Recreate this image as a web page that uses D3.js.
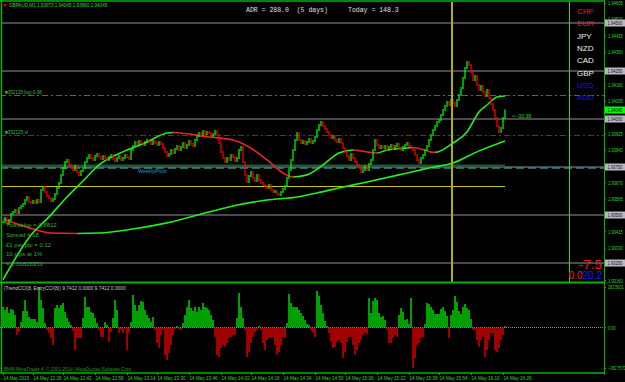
<!DOCTYPE html>
<html>
<head>
<meta charset="utf-8">
<script src="https://cdn.jsdelivr.net/npm/d3@7"></script>
<style>
  html, body { margin: 0; padding: 0; background: #000; }
  svg { display: block; }
  text { font-family: "Liberation Sans", Arial, sans-serif; }
</style>
</head>
<body>
<svg id="chart" width="625" height="382"></svg>
<script>
// ---- data (GBPAUD M1, 14 May 2015) ----
const closes = [
  1.93464,1.93485,1.93453,1.93474,1.93505,
  1.93516,1.93526,1.93511,
  1.93537,1.93547,1.93557,
  1.93578,1.93594,1.93568,
  1.93563,1.93573,1.93563,1.93578,1.93568,
  1.93630,1.93646,
  1.93620,1.93599,1.93589,1.93573,1.93584,
  1.93610,1.93641,1.93667,
  1.93709,1.93745,1.93776,
  1.93787,1.93761,
  1.93745,1.93735,1.93755,1.93724,1.93709,1.93729,1.93745,
  1.93776,1.93797,1.93813,1.93797,1.93787,1.93808,1.93818,1.93802,1.93792,1.93808,
  1.93797,1.93787,1.93802,1.93813,1.93792,1.93781,1.93797,1.93808,1.93787,1.93797,1.93813,1.93802,1.93792,
  1.93839,1.93860,1.93880,1.93870,1.93886,1.93875,1.93865,1.93880,
  1.93891,1.93880,1.93870,1.93886,1.93875,1.93865,1.93880,1.93870,
  1.93849,1.93828,1.93808,1.93818,1.93839,1.93823,1.93844,
  1.93860,1.93839,1.93854,1.93875,1.93849,1.93865,1.93886,1.93870,1.93860,1.93891,
  1.93912,1.93927,1.93917,1.93938,1.93922,1.93932,1.93927,1.93912,1.93922,1.93938,1.93917,
  1.93875,1.93828,1.93797,1.93776,
  1.93797,1.93787,1.93813,1.93802,1.93781,1.93797,1.93839,1.93854,
  1.93776,1.93709,1.93672,
  1.93703,1.93724,1.93693,1.93677,1.93709,1.93682,1.93667,1.93656,
  1.93651,1.93641,1.93656,1.93630,1.93620,1.93625,1.93610,1.93604,1.93620,1.93636,1.93651,
  1.93693,1.93735,1.93787,1.93839,1.93891,1.93927,
  1.93891,1.93875,1.93886,1.93870,1.93880,1.93896,1.93875,1.93886,1.93906,
  1.93943,1.93969,1.93985,1.93964,1.93948,
  1.93932,1.93917,1.93901,1.93912,1.93891,1.93880,1.93896,1.93875,
  1.93849,1.93828,1.93808,1.93787,1.93818,1.93797,1.93776,
  1.93761,1.93745,1.93724,1.93735,1.93755,1.93735,1.93766,
  1.93787,1.93839,1.93891,1.93865,1.93849,1.93860,
  1.93849,1.93860,1.93839,1.93854,1.93865,1.93844,1.93860,1.93870,1.93849,1.93839,1.93854,1.93865,1.93875,1.93860,1.93849,1.93839,
  1.93813,1.93787,1.93771,1.93797,1.93813,
  1.93839,1.93860,1.93891,1.93917,1.93943,1.93964,1.93985,1.93995,
  1.94021,1.94047,1.94068,1.94089,1.94073,1.94099,
  1.94084,1.94068,1.94099,1.94125,1.94162,
  1.94214,1.94266,1.94297,1.94281,
  1.94245,1.94203,1.94224,1.94177,1.94151,
  1.94172,1.94141,1.94120,1.94151,1.94110,
  1.94078,1.94047,1.94005,1.93964,1.93932,1.93953,1.94005,1.94045
];

// moving averages as [bar, price] samples
const fastMA = [
  [0,1.93162],[14,1.93396],[23,1.93490],[32,1.93594],[40,1.93677],[48,1.93761],
  [61,1.93834],[71,1.93875],[82,1.93927],[85,1.93930],[103,1.93906],[115,1.93891],
  [123,1.93854],[132,1.93787],[140,1.93719],[145,1.93698],[152,1.93709],[160,1.93761],
  [168,1.93823],[175,1.93839],[182,1.93828],[187,1.93823],[192,1.93839],[202,1.93849],
  [205,1.93852],[216,1.93826],[225,1.93875],[232,1.93932],[238,1.94037],[242,1.94073],
  [247,1.94115],[251,1.94120]
];
const slowMA = [
  [0,1.93479],[4,1.93464],[13,1.93433],[24,1.93406],[37,1.93404],[48,1.93406],
  [65,1.93427],[82,1.93459],[103,1.93516],[107,1.93526],[115,1.93547],[132,1.93578],
  [147,1.93594],[157,1.93615],[168,1.93641],[182,1.93672],[198,1.93709],[213,1.93745],
  [225,1.93771],[238,1.93834],[251,1.93886]
];

// TrendCCI histogram, one value per bar
const cci = [
  143,122,143,101,129,122,87,-52,-31,38,115,192,115,73,59,59,59,38,282.5601,192,
  136,31,-17,-38,-73,-122,136,157,136,157,171,108,66,38,17,-24,-157,-73,-73,-73,
  66,213,143,143,108,101,66,31,-17,-66,-66,38,17,-101,-31,66,192,122,-38,-17,
  -38,-10,-157,-38,38,227,157,115,157,185,178,122,87,66,38,73,-17,-108,-143,-52,
  -17,-192,-227,-178,-122,-52,-10,10,-10,-17,31,87,143,192,136,115,143,108,143,122,
  171,143,136,122,87,52,-66,-192,-206,-143,-122,-136,-108,-73,-66,-52,-52,66,241,143,
  66,-17,-206,-171,-108,-66,-31,-17,10,-17,-108,-157,-87,-73,-73,-66,-122,-192,-171,-122,
  -66,-73,31,234,171,143,143,143,122,101,80,52,24,17,-17,-38,-66,255,220,157,
  101,45,10,-38,-101,-143,-136,-101,-87,-108,-213,-171,-101,-66,-66,-122,-192,-157,-108,-87,
  -52,-38,-45,206,101,185,206,192,101,73,80,52,-17,-108,-108,-73,-52,-66,87,136,
  108,52,59,24,206,-282.757,-213,-122,-108,-73,-66,24,171,164,143,122,94,94,94,129,
  143,115,80,-73,87,122,220,178,115,94,143,164,136,122,59,-17,-17,-87,-136,-87,
  -66,-206,-157,-87,-38,-38,-157,-171,-143,-87,-52,9.7412
];

const priceTicks = [1.93160,1.93245,1.93330,1.93415,1.93500,1.93585,1.93670,1.93755,1.93840,
  1.93925,1.94010,1.94095,1.94180,1.94265,1.94350,1.94435,1.94520,1.94605];
const gridLevels = [1.94500,1.94250,1.94000,1.93750,1.93500,1.93250];
const bidPrice = 1.94045;
const buyLevel = 1.94125;
const slLevel = 1.93917;
const pivotLevel = 1.93750;
const yellowLevel = 1.93651;
const markerBars = { yellow: 224.5, green: 283 };

const timeLabels = ['14 May 2015','14 May 12:26','14 May 12:42','14 May 12:58','14 May 13:14',
  '14 May 13:30','14 May 13:46','14 May 14:02','14 May 14:18','14 May 14:34','14 May 14:50',
  '14 May 15:06','14 May 15:22','14 May 15:38','14 May 15:54','14 May 16:10','14 May 16:26'];
const timeBars = [0,15,30,46,62,77,93,109,124,140,156,171,187,203,218,234,250];

const currencies = ['CHF','EUR','JPY','NZD','CAD','GBP','USD','AUD'];
const currencyColors = ['#ff1010','#ff1010','#f0f0f0','#f0f0f0','#f0f0f0','#f0f0f0','#1010ff','#1010ff'];

const infoLines = ['TickValue = 0.8812','Spread = 18','\u00a31 per pip = 0.12','10 pips at 1%','= 0.01826353'];

// ---- layout ----
const axisX = 604;
const mainTop = 0, mainBottom = 282;
const subTop = 283, subBottom = 373;
const GREEN = '#00b400';
const LABEL = '#22d822';
const UP = '#00ff00', DOWN = '#ff0000';
const CHAR_W = 2.35;   // squeezed MT4 label width per character

const svg = d3.select('#chart');
svg.append('rect').attr('width', 625).attr('height', 382).attr('fill', '#000');

const x = d3.scaleLinear().domain([0, closes.length - 1]).range([3, 505]);
const y = d3.scaleLinear().domain([1.93151, 1.94620]).range([mainBottom, mainTop]);
const yc = d3.scaleLinear().domain(d3.extent(cci)).range([subBottom - 5, subTop + 4]);
const px = v => Math.round(v) + 0.5;

// squeeze small MT4-style labels horizontally to their measured width
function squeeze(sel, perChar = CHAR_W) {
  sel.each(function () {
    const t = d3.select(this);
    const w = this.getComputedTextLength();
    if (!w) return;
    const s = Math.min(1, this.textContent.length * perChar / w);
    const x0 = +t.attr('x') || 0;
    t.attr('transform', `translate(${x0},0) scale(${s},1) translate(${-x0},0)`);
  });
}

const main = svg.append('g');
main.append('clipPath').attr('id', 'mainClip')
  .append('rect').attr('x', 2).attr('y', 2).attr('width', axisX - 2).attr('height', mainBottom - 2);
const plot = main.append('g').attr('clip-path', 'url(#mainClip)');

// horizontal gray levels
plot.selectAll('.grid').data(gridLevels).join('line')
  .attr('x1', 0).attr('x2', axisX)
  .attr('y1', d => y(d)).attr('y2', d => y(d))
  .attr('stroke', '#626268').attr('stroke-width', 1.5);

// order lines
plot.append('line').attr('x1', 0).attr('x2', axisX).attr('y1', px(y(buyLevel))).attr('y2', px(y(buyLevel)))
  .attr('stroke', '#1e8c1e').attr('stroke-dasharray', '6,3,2,3');
plot.append('line').attr('x1', 0).attr('x2', axisX).attr('y1', px(y(slLevel))).attr('y2', px(y(slLevel)))
  .attr('stroke', '#a01818').attr('stroke-dasharray', '6,3,2,3');

// weekly pivot
plot.append('line').attr('x1', 0).attr('x2', x(closes.length - 1)).attr('y1', y(pivotLevel) - 1.5).attr('y2', y(pivotLevel) - 1.5)
  .attr('stroke', '#1d5a34').attr('stroke-width', 2);
plot.append('line').attr('x1', 0).attr('x2', axisX).attr('y1', y(pivotLevel) + 1).attr('y2', y(pivotLevel) + 1)
  .attr('stroke', '#2a8c8c').attr('stroke-width', 1.5).attr('stroke-dasharray', '8,4');

// yellow level
plot.append('line').attr('x1', 0).attr('x2', x(closes.length - 1)).attr('y1', px(y(yellowLevel))).attr('y2', px(y(yellowLevel)))
  .attr('stroke', '#c8c800').attr('stroke-width', 1);

// vertical markers
svg.append('line').attr('x1', x(markerBars.yellow)).attr('x2', x(markerBars.yellow))
  .attr('y1', 2).attr('y2', mainBottom).attr('stroke', '#b0b000').attr('stroke-width', 2);
svg.append('line').attr('x1', px(x(markerBars.green))).attr('x2', px(x(markerBars.green)))
  .attr('y1', 2).attr('y2', mainBottom).attr('stroke', '#20e020').attr('stroke-width', 1);

// moving averages coloured by slope
function drawMA(points, id) {
  const line = d3.line().x(d => x(d[0])).y(d => y(d[1])).curve(d3.curveMonotoneX);
  const down = [], up = [];
  for (let i = 1; i < points.length; i++) {
    const seg = [x(points[i - 1][0]), x(points[i][0])];
    (points[i][1] < points[i - 1][1] ? down : up).push(seg);
  }
  [['up', up, '#22ee22'], ['down', down, '#ee2222']].forEach(([k, segs, col]) => {
    const cp = plot.append('clipPath').attr('id', id + k);
    cp.selectAll('rect').data(segs).join('rect')
      .attr('x', d => d[0]).attr('width', d => d[1] - d[0] + 0.5)
      .attr('y', 0).attr('height', mainBottom);
    plot.append('path').datum(points).attr('d', line)
      .attr('fill', 'none').attr('stroke', col).attr('stroke-width', 1.6)
      .attr('clip-path', `url(#${id + k})`);
  });
}
drawMA(slowMA, 'slow');
drawMA(fastMA, 'fast');

// candles (open = previous close)
const bars = closes.map((c, i) => ({ i, o: i ? closes[i - 1] : c, c }));
plot.selectAll('.bar').data(bars).join('line')
  .attr('x1', d => x(d.i)).attr('x2', d => x(d.i))
  .attr('y1', d => y(Math.max(d.o, d.c)) - 1)
  .attr('y2', d => y(Math.min(d.o, d.c)) + 1)
  .attr('stroke', d => d.c >= d.o ? UP : DOWN)
  .attr('stroke-width', 1.25);

// price axis: labels under the boxes are hidden, as in the terminal
const boxLevels = gridLevels.concat([bidPrice]);
const shownTicks = priceTicks.filter(t => d3.min(boxLevels, b => Math.abs(y(b) - y(t))) >= 3);
const yAxis = svg.append('g').attr('transform', `translate(${axisX},0)`)
  .call(d3.axisRight(y).tickValues(shownTicks).tickFormat(d3.format('.5f')).tickSize(2).tickPadding(2));
yAxis.select('.domain').remove();
yAxis.selectAll('line').attr('stroke', GREEN);
yAxis.selectAll('text').attr('fill', LABEL).attr('font-size', 5.5).call(squeeze, 2.1);

// boxed labels on axis
const boxes = gridLevels.map(v => ({ v, bg: '#b8b8c0', fg: '#101010' }))
  .concat([{ v: bidPrice, bg: '#00ff00', fg: '#000' }]);
const bx = svg.selectAll('.box').data(boxes).join('g').attr('transform', d => `translate(${axisX + 1},${Math.round(y(d.v))})`);
bx.append('rect').attr('x', 0).attr('y', -3.5).attr('width', 20).attr('height', 7).attr('fill', d => d.bg);
bx.append('text').attr('x', 2.5).attr('y', 2).attr('font-size', 5.5).attr('fill', d => d.fg)
  .text(d => d3.format('.5f')(d.v)).call(squeeze, 2.1);

// ---- indicator panel ----
svg.append('line').attr('x1', 0).attr('x2', axisX).attr('y1', px(yc(0))).attr('y2', px(yc(0)))
  .attr('stroke', '#8a8a8a').attr('stroke-dasharray', '1,1');
svg.selectAll('.cci').data(cci).join('rect')
  .attr('x', (d, i) => x(i) - 0.6).attr('width', 1.25)
  .attr('y', d => Math.min(yc(d), yc(0)))
  .attr('height', d => Math.max(1, Math.abs(yc(d) - yc(0))))
  .attr('fill', d => d >= 0 ? UP : DOWN);

const cAxis = svg.append('g').attr('transform', `translate(${axisX},0)`)
  .call(d3.axisRight(yc).tickValues([d3.max(cci), 0, d3.min(cci)])
    .tickFormat(d => d === 0 ? '0.00' : d3.format('.4f')(d)).tickSize(2).tickPadding(2));
cAxis.select('.domain').remove();
cAxis.selectAll('line').attr('stroke', GREEN);
cAxis.selectAll('text').attr('fill', LABEL).attr('font-size', 5.5).call(squeeze, 1.95);

// time axis
const xAxis = svg.append('g').attr('transform', `translate(0,${subBottom})`)
  .call(d3.axisBottom(x).tickValues(timeBars).tickFormat((d, i) => timeLabels[i]).tickSize(2).tickPadding(1));
xAxis.select('.domain').remove();
xAxis.selectAll('line').attr('stroke', GREEN);
xAxis.selectAll('text').attr('fill', LABEL).attr('font-size', 5.5)
  .attr('text-anchor', 'start').attr('dx', 0).call(squeeze, 2.35);

// frame
const frame = svg.append('g').attr('stroke', GREEN).attr('fill', 'none');
frame.append('line').attr('x1', 0).attr('x2', axisX).attr('y1', 1).attr('y2', 1).attr('stroke-width', 1.5);
frame.append('line').attr('x1', 1.5).attr('x2', 1.5).attr('y1', 0).attr('y2', subBottom).attr('stroke-width', 1.5);
frame.append('line').attr('x1', axisX + 0.5).attr('x2', axisX + 0.5).attr('y1', 0).attr('y2', subBottom + 2);
frame.append('line').attr('x1', 0).attr('x2', axisX).attr('y1', mainBottom + 0.5).attr('y2', mainBottom + 0.5).attr('stroke-width', 2);
frame.append('line').attr('x1', 0).attr('x2', axisX).attr('y1', subBottom).attr('y2', subBottom).attr('stroke-width', 1.5);

// ---- texts ----
svg.append('path').attr('d', 'M3,4 L7,4 L5,7 Z').attr('fill', '#e00000');
svg.append('text').attr('x', 9).attr('y', 7).attr('font-size', 5.5).attr('fill', LABEL)
  .text('GBPAUD,M1 1.93973 1.94045 1.93960 1.94045').call(squeeze, 2.4);

svg.append('text').attr('x', 246).attr('y', 12).attr('font-size', 6.5).attr('fill', '#e0e0e0')
  .style('font-family', '"Liberation Mono", monospace').style('white-space', 'pre')
  .text('ADR = 288.0  (5 days)');
svg.append('text').attr('x', 348).attr('y', 12).attr('font-size', 6.5).attr('fill', '#e0e0e0')
  .style('font-family', '"Liberation Mono", monospace').text('Today = 148.3');

svg.selectAll('.cur').data(currencies).join('text')
  .attr('x', 577).attr('y', (d, i) => 14 + i * 12.3)
  .attr('font-size', 8).attr('fill', (d, i) => currencyColors[i]).text(d => d);

svg.append('text').attr('x', 602).attr('y', 269).attr('text-anchor', 'end')
  .attr('font-size', 13.5).attr('fill', '#ff1010').text('-7.5');
const lastLine = svg.append('text').attr('x', 602).attr('y', 279).attr('text-anchor', 'end').attr('font-size', 10);
lastLine.append('tspan').attr('fill', '#ff1010').text('0.0');
lastLine.append('tspan').attr('fill', '#1a1aff').text('20.2');

svg.append('text').attr('x', 512).attr('y', 118).attr('font-size', 5.5).attr('fill', LABEL)
  .text('<--00:38').call(squeeze, 2.4);

svg.append('text').attr('x', 5).attr('y', 94).attr('font-size', 5.5).attr('fill', '#2cc02c')
  .text('\u25a0352135 buy 0.08').call(squeeze, 2.3);
svg.append('text').attr('x', 5).attr('y', 134).attr('font-size', 5.5).attr('fill', '#2cc02c')
  .text('\u25a0352135 sl').call(squeeze, 2.3);
svg.append('text').attr('x', 138).attr('y', 173).attr('font-size', 5.5).attr('fill', '#2a9ad0')
  .text('WeeklyPivot').call(squeeze, 2.6);

svg.selectAll('.info').data(infoLines).join('text')
  .attr('x', 6).attr('y', (d, i) => 227 + i * 9.8)
  .attr('font-size', 6).attr('fill', '#2cb02c').text(d => d);

svg.append('text').attr('x', 4).attr('y', 290).attr('font-size', 5.5).attr('fill', '#c0d0c0')
  .text('(TrendCCI(8, EntryCCI(8)) 9.7412 0.0000 9.7412 0.0000').call(squeeze, 2.3);
svg.append('text').attr('x', 4).attr('y', 371).attr('font-size', 5.5).attr('fill', '#1f9a1f')
  .text('BMM MetaTrader 4, \u00a9 2001-2014, MetaQuotes Software Corp.').call(squeeze, 2.3);
</script>
</body>
</html>
